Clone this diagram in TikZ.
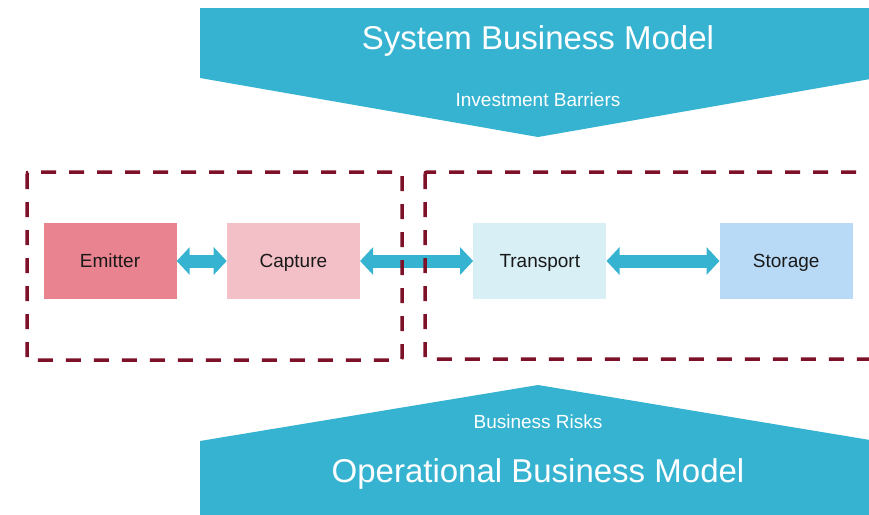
\documentclass[tikz,border=0pt]{standalone}
\usepackage{fontspec}
\setmainfont{Liberation Sans}
\usetikzlibrary{arrows.meta,positioning}
\definecolor{banner}{HTML}{35B3D1}
\definecolor{emitterred}{HTML}{E8838F}
\definecolor{capturepink}{HTML}{F4C0C8}
\definecolor{transportblue}{HTML}{D7EFF5}
\definecolor{storageblue}{HTML}{B9DAF7}
\definecolor{groupmaroon}{HTML}{7D1128}
\begin{document}
\begin{tikzpicture}[x=1pt,y=-1pt,
box/.style={minimum width=133pt,minimum height=76pt,inner sep=0pt,text height=13.6pt,text depth=0pt,text=black!90,font=\fontsize{19}{22}\selectfont},
link/.style={{Triangle[length=13pt,width=27pt]}-{Triangle[length=13pt,width=27pt]},line width=13pt,draw=banner},
group/.style={draw=groupmaroon,line width=3.5pt,dash pattern=on 15pt off 13pt,rounded corners=2pt},
title/.style={text=white,font=\fontsize{33}{38}\selectfont,anchor=base},
subtitle/.style={text=white,font=\fontsize{19}{22}\selectfont,anchor=base}]
\useasboundingbox (0,0) rectangle (869,514);
\clip (0,0) rectangle (869,514);
% banners
\fill[banner] (200,8) -- (876,8) -- (876,78) -- (538,137) -- (200,78) -- cycle;
\fill[banner] (200,441) -- (538,385) -- (876,441) -- (876,520) -- (200,520) -- cycle;
\node[title] (sysmodel) at (538,49) {System Business Model};
\node[subtitle] (barriers) at (538,106) {Investment Barriers};
\node[subtitle] (risks) at (538,428) {Business Risks};
\node[title] (opmodel) at (538,482) {Operational Business Model};
% chain
\node[box,fill=emitterred] (emitter) at (110,261) {Emitter};
\node[box,fill=capturepink,right=50pt of emitter] (capture) {Capture};
\node[box,fill=transportblue,right=113pt of capture] (transport) {Transport};
\node[box,fill=storageblue,right=113pt of transport] (storage) {Storage};
\draw[link] (emitter) -- (capture);
\draw[link] (capture) -- (transport);
\draw[link] (transport) -- (storage);
% groups
\draw[group] (27,172) rectangle (402,360);
\draw[group] (425,172) rectangle (890,359);
\end{tikzpicture}
\end{document}
